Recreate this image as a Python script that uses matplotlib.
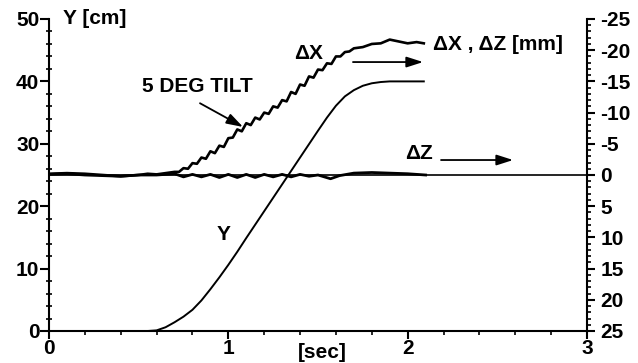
import matplotlib
matplotlib.use("Agg")
import matplotlib.pyplot as plt
from matplotlib.ticker import MultipleLocator, FixedLocator

plt.rcParams['font.family'] = ['Liberation Sans', 'DejaVu Sans']
plt.rcParams['font.weight'] = 'bold'

# ---- data ----
y_t = [0.00, 0.55, 0.60, 0.65, 0.70, 0.75, 0.80, 0.85, 0.90, 0.95, 1.00, 1.05, 1.10,
       1.20, 1.30, 1.40, 1.50, 1.55, 1.60, 1.65, 1.70, 1.75, 1.80, 1.85, 1.90, 2.00, 2.09]
y_cm = [0.0, 0.0, 0.1, 0.6, 1.4, 2.3, 3.4, 4.9, 6.7, 8.6, 10.6, 12.7, 14.9,
        19.2, 23.5, 27.8, 32.1, 34.2, 36.1, 37.6, 38.6, 39.3, 39.7, 39.9, 40.0, 40.0, 40.0]

dx_t = [0.00, 0.10, 0.20, 0.30, 0.40, 0.50, 0.55, 0.60, 0.65, 0.70, 0.725, 0.75, 0.775,
        0.80, 0.825, 0.85, 0.875, 0.90, 0.925, 0.95, 0.975, 1.00, 1.025, 1.05, 1.075,
        1.10, 1.125, 1.15, 1.175, 1.20, 1.225, 1.25, 1.275, 1.30, 1.325, 1.35, 1.375,
        1.40, 1.425, 1.45, 1.475, 1.50, 1.525, 1.55, 1.575, 1.60, 1.625, 1.65, 1.675,
        1.70, 1.75, 1.80, 1.85, 1.90, 1.95, 2.00, 2.05, 2.09]
dx_mm = [-0.2, -0.3, -0.2, 0.0, 0.2, 0.0, -0.2, -0.1, -0.3, -0.5, -0.5, -1.1, -1.0,
         -1.9, -1.8, -2.8, -2.6, -3.8, -3.5, -4.7, -4.5, -5.9, -6.0, -7.3, -7.0,
         -8.3, -8.0, -9.2, -8.9, -10.0, -9.8, -11.0, -10.8, -12.0, -11.8, -13.3, -13.0,
         -14.5, -14.3, -15.8, -15.6, -16.9, -16.8, -17.9, -17.8, -19.0, -19.0, -19.7, -19.8,
         -20.3, -20.5, -21.0, -21.1, -21.7, -21.4, -21.1, -21.3, -21.1]

dz_t = [0.00, 0.10, 0.20, 0.30, 0.40, 0.50, 0.60, 0.70, 0.75, 0.80, 0.85, 0.90, 0.95,
        1.00, 1.05, 1.10, 1.15, 1.20, 1.25, 1.30, 1.35, 1.40, 1.45, 1.50, 1.57, 1.62,
        1.70, 1.80, 1.90, 2.00, 2.10]
dz_mm = [-0.1, -0.2, 0.0, 0.1, 0.2, 0.0, 0.0, -0.2, 0.3, -0.1, 0.3, -0.1, 0.4,
         -0.1, 0.4, -0.1, 0.4, -0.1, 0.3, -0.1, 0.3, -0.1, 0.2, 0.0, 0.6, 0.1,
         -0.3, -0.4, -0.3, -0.2, 0.0]

x_ticks = [0, 1, 2, 3]
y_ticks = [0, 10, 20, 30, 40, 50]
r_ticks = [-25, -20, -15, -10, -5, 0, 5, 10, 15, 20, 25]
r_labels = ['-25', '-20', '-15', '-10', '-5', '0', '5', '10', '15', '20', '25']

# ---- figure ----
fig = plt.figure(figsize=(6.38, 3.63), dpi=100)
ax = fig.add_axes([49/638, 32/363, (587-49)/638, (331-19)/363])
ax2 = ax.twinx()

ax.set_xlim(0, 3)
ax.set_ylim(0, 50)
ax2.set_ylim(25, -25)

fs = 15
ax.plot(y_t, y_cm, color='black', lw=1.4)
ax2.axhline(0, color='black', lw=1.2)
ax2.plot(dz_t, dz_mm, color='black', lw=2.0)
ax2.plot(dx_t, dx_mm, color='black', lw=1.9)

for s in ['top', 'right']:
    ax.spines[s].set_visible(False)
for s in ['top', 'left', 'bottom']:
    ax2.spines[s].set_visible(False)
ax.spines['left'].set_linewidth(1.5)
ax.spines['bottom'].set_linewidth(1.5)
ax2.spines['right'].set_linewidth(1.5)

ax.xaxis.set_major_locator(FixedLocator(x_ticks))
ax.xaxis.set_minor_locator(MultipleLocator(0.2))
ax.yaxis.set_major_locator(FixedLocator(y_ticks))
ax.yaxis.set_minor_locator(MultipleLocator(2))
ax2.yaxis.set_major_locator(FixedLocator(r_ticks))
ax2.set_yticklabels(r_labels)
ax2.yaxis.set_minor_locator(MultipleLocator(1))

ax.tick_params(axis='x', which='major', direction='out', length=6, width=1.5,
               labelsize=fs, pad=0)
ax.tick_params(axis='x', which='minor', direction='out', length=3, width=1.2)
ax.tick_params(axis='y', which='major', direction='out', length=6.5, width=1.5,
               labelsize=fs, pad=0.5)
ax.tick_params(axis='y', which='minor', direction='inout', length=5, width=1.2)
ax2.tick_params(axis='y', which='major', direction='out', length=6, width=1.5,
                labelsize=fs, pad=3.5)
ax2.tick_params(axis='y', which='minor', direction='out', length=3, width=1.2)
for lab in ax.get_xticklabels() + ax.get_yticklabels() + ax2.get_yticklabels():
    lab.set_fontweight('bold')

# ---- texts & arrows ----
ax.text(95/638, 1 - 19/363, 'Y [cm]', transform=fig.transFigure, fontsize=fs,
        fontweight='bold', ha='center', va='center')
ax.text(498/638, 1 - 44/363, 'ΔX , ΔZ [mm]', transform=fig.transFigure, fontsize=fs,
        fontweight='bold', ha='center', va='center')
ax.text(322/638, 1 - 352/363, '[sec]', transform=fig.transFigure, fontsize=fs,
        fontweight='bold', ha='center', va='center')
ax.text(0.976, 15.4, 'Y', fontsize=fs, fontweight='bold', ha='center', va='center')
ax.text(1.445, 44.4, 'ΔX', fontsize=fs, fontweight='bold', ha='center', va='center')
ax.text(2.064, 28.4, 'ΔZ', fontsize=fs, fontweight='bold', ha='center', va='center')
ax.text(0.825, 39.2, '5 DEG TILT', fontsize=fs, fontweight='bold', ha='center', va='center')

ap = dict(arrowstyle='-|>,head_length=1.0,head_width=0.32', color='black', lw=1.3,
          shrinkA=0, shrinkB=0)
ax.annotate('', xy=(1.082, 32.7), xytext=(0.842, 36.5), arrowprops=ap)
ax.annotate('', xy=(2.086, 43.1), xytext=(1.695, 43.1), arrowprops=ap)
ax.annotate('', xy=(2.588, 27.4), xytext=(2.186, 27.4), arrowprops=ap)

fig.savefig('out.png', dpi=100)
